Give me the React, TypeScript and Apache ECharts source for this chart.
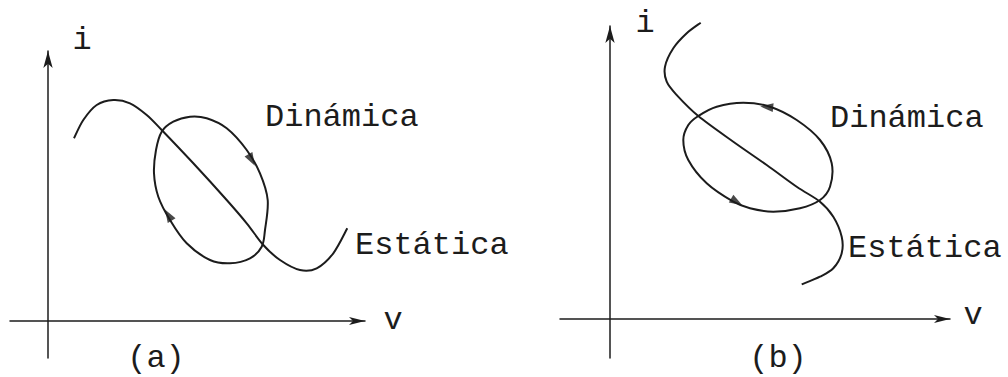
import React, { useEffect, useRef } from "react";
import * as echarts from "echarts";

// Panel (a): static characteristic and dynamic loop (v, i)
const staticA: [number, number][] = [
  [2.6, 18.27], [3.53, 20.1], [4.87, 21.6], [6.53, 22.1], [8.2, 21.77], [9.87, 20.6],
  [11.37, 19.1], [14.53, 15.77], [17.87, 12.1], [19.87, 9.77], [21.53, 7.6], [23.2, 6.1],
  [25.2, 5.1], [26.87, 5.27], [28.53, 6.77], [29.93, 9.27],
];
const loopA: [number, number][] = [
  [11.37, 18.93], [12.53, 19.93], [14.2, 20.43], [15.87, 20.27], [17.87, 19.27],
  [19.87, 17.1], [21.2, 14.77], [21.97, 12.1], [21.7, 9.1], [21.37, 7.43], [20.2, 6.27],
  [18.2, 5.77], [16.2, 6.1], [13.87, 7.77], [12.2, 10.1], [11.03, 12.43], [10.6, 14.77],
  [10.8, 17.1],
];
// arrowheads: [v, i, dv, di] (position and travel direction)
const arrowsA: [number, number, number, number][] = [
  [20.37, 16.1, 1.33, -2.33],
  [12.03, 10.6, -1.2, 2.0],
];

// Panel (b)
const staticB: [number, number][] = [
  [9.07, 29.63], [7.67, 28.57], [6.33, 27.07], [5.5, 25.23], [5.67, 23.73], [6.67, 22.4],
  [8.83, 20.3], [12.33, 17.73], [15.67, 15.4], [18.67, 13.23], [21.0, 11.73],
  [22.33, 10.23], [23.17, 8.23], [23.17, 6.57], [22.33, 5.07], [21.0, 4.23], [19.17, 3.47],
];
const loopB: [number, number][] = [
  [8.83, 20.3], [10.67, 21.23], [13.33, 21.63], [16.0, 21.23], [18.67, 19.9], [21.0, 17.9],
  [22.17, 15.57], [22.0, 13.23], [21.0, 11.9], [19.0, 11.07], [16.33, 10.73], [14.0, 11.07],
  [12.33, 11.73], [9.67, 13.57], [7.83, 15.9], [7.33, 17.9], [7.83, 19.4],
];
const arrowsB: [number, number, number, number][] = [
  [15.67, 21.2, -5.3, 0.5],
  [12.67, 11.7, 4.3, -2.5],
];

const curveLabels = ["Dinámica", "Estática"];
const axisNames = ["v", "i"];
const panelNames = ["(a)", "(b)"];

const INK = "#1c1c1c";
const FONT = '"Liberation Mono", "DejaVu Sans Mono", monospace';

// Catmull-Rom spline through pixel points, written as cubic Bézier segments
function splinePath(p: number[][], closed: boolean): string {
  const n = p.length;
  const at = (k: number) =>
    closed ? p[(k + n) % n] : p[Math.max(0, Math.min(n - 1, k))];
  const f = (v: number) => v.toFixed(2);
  let d = `M${f(p[0][0])},${f(p[0][1])}`;
  const segs = closed ? n : n - 1;
  for (let k = 0; k < segs; k++) {
    const p0 = at(k - 1), p1 = at(k), p2 = at(k + 1), p3 = at(k + 2);
    const c1 = [p1[0] + (p2[0] - p0[0]) / 6, p1[1] + (p2[1] - p0[1]) / 6];
    const c2 = [p2[0] - (p3[0] - p1[0]) / 6, p2[1] - (p3[1] - p1[1]) / 6];
    d += `C${f(c1[0])},${f(c1[1])} ${f(c2[0])},${f(c2[1])} ${f(p2[0])},${f(p2[1])}`;
  }
  if (closed) d += "Z";
  return d;
}

function curve(data: [number, number][], idx: number, closed: boolean) {
  return {
    type: "custom",
    coordinateSystem: "cartesian2d",
    xAxisIndex: idx,
    yAxisIndex: idx,
    data,
    silent: true,
    clip: false,
    renderItem: (params: any, api: any) => {
      if (params.dataIndex !== 0) return null;
      const pts = data.map((pt) => api.coord(pt));
      return {
        type: "path",
        shape: { pathData: splinePath(pts, closed) },
        style: { stroke: INK, lineWidth: 2, fill: "none" },
      };
    },
  };
}

function arrowData(arr: [number, number, number, number][]) {
  return arr.map(([v, i, dv, di]) => ({
    value: [v, i],
    symbolRotate: (Math.atan2(di, dv) * 180) / Math.PI - 90,
  }));
}

function heads(arr: [number, number, number, number][], idx: number) {
  return {
    type: "scatter",
    xAxisIndex: idx,
    yAxisIndex: idx,
    data: arrowData(arr),
    symbol: "triangle",
    symbolSize: [9, 13],
    itemStyle: { color: INK },
    silent: true,
  };
}

function axisPair(gridIndex: number, xr: [number, number], yr: [number, number]) {
  const common = {
    type: "value" as const,
    gridIndex,
    axisTick: { show: false },
    axisLabel: { show: false },
    splitLine: { show: false },
    axisLine: {
      show: true,
      onZero: true,
      symbol: ["none", "arrow"],
      lineStyle: { color: INK, width: 1.5 },
    },
  };
  return {
    x: {
      ...common,
      min: xr[0],
      max: xr[1],
      axisLine: { ...common.axisLine, symbolSize: [6, 16] },
    },
    y: {
      ...common,
      min: yr[0],
      max: yr[1],
      axisLine: { ...common.axisLine, symbolSize: [7, 17] },
    },
  };
}

function text(t: string, x: number, y: number, align = "left") {
  return {
    type: "text",
    x,
    y,
    style: {
      text: t,
      font: `32px ${FONT}`,
      fill: INK,
      textAlign: align,
      textVerticalAlign: "middle",
    },
  };
}

export default function App() {
  const ref = useRef<HTMLDivElement>(null);

  useEffect(() => {
    if (!ref.current) return;
    const chart = echarts.init(ref.current, null, { renderer: "svg" });
    const a = axisPair(0, [-3.8, 31.7], [-3.7, 27.0]);
    const b = axisPair(1, [-5.0, 34.0], [-3.9, 29.3]);
    chart.setOption({
      animation: false,
      backgroundColor: "#ffffff",
      grid: [
        { left: 10, top: 51, width: 355, height: 307 },
        { left: 560, top: 26, width: 390, height: 332 },
      ],
      xAxis: [a.x, b.x],
      yAxis: [a.y, b.y],
      series: [
        curve(staticA, 0, false),
        curve(loopA, 0, true),
        heads(arrowsA, 0),
        curve(staticB, 1, false),
        curve(loopB, 1, true),
        heads(arrowsB, 1),
      ],
      graphic: [
        text(axisNames[1], 82, 40, "center"),
        text(axisNames[0], 393, 320, "center"),
        text(curveLabels[0], 265, 117),
        text(curveLabels[1], 355, 245),
        text(panelNames[0], 156, 358, "center"),
        text(axisNames[1], 645, 23, "center"),
        text(axisNames[0], 973, 315, "center"),
        text(curveLabels[0], 830, 118),
        text(curveLabels[1], 848, 248),
        text(panelNames[1], 778, 358, "center"),
      ],
    });
    return () => chart.dispose();
  }, []);

  return (
    <div
      ref={ref}
      style={{ position: "fixed", left: 0, top: 0, width: 1008, height: 377, background: "#fff" }}
    />
  );
}
